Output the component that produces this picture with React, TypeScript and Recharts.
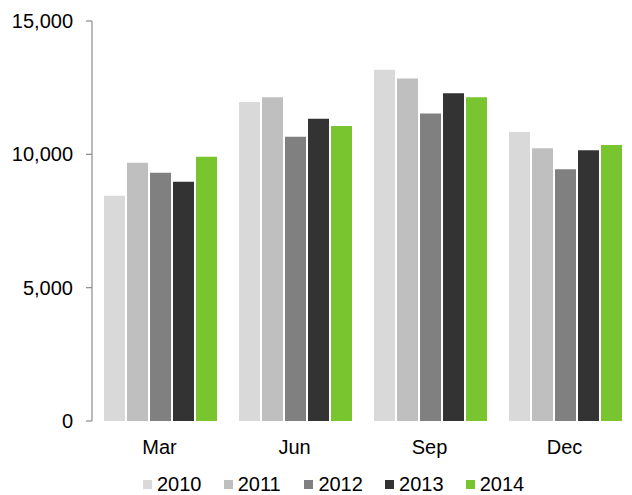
import React from "react";
import { BarChart, Bar, XAxis, YAxis, Legend } from "recharts";

const categories = ["Mar", "Jun", "Sep", "Dec"];
const years = ["2010", "2011", "2012", "2013", "2014"];
const colors = ["#d9d9d9", "#bfbfbf", "#808080", "#333333", "#78c530"];
const v2010 = [8450, 11960, 13170, 10840];
const v2011 = [9680, 12140, 12840, 10230];
const v2012 = [9310, 10660, 11530, 9440];
const v2013 = [8970, 11330, 12290, 10150];
const v2014 = [9910, 11060, 12140, 10350];
const yTicks = [0, 5000, 10000, 15000];
const boundaryTicks = [0, 1, 2, 3, 4];

const series = [v2010, v2011, v2012, v2013, v2014];
const data = categories.map((c, i) => {
  const row: Record<string, any> = { name: c };
  years.forEach((y, k) => {
    row[y] = series[k][i];
  });
  return row;
});

const FONT = "'Liberation Sans', Arial, sans-serif";
const AXIS = "#8a8a8a";

const LegendContent = () => (
  <div style={{ display: "flex", height: 18, alignItems: "center", marginLeft: 143, fontFamily: FONT }}>
    {years.map((y, k) => (
      <div key={y} style={{ display: "flex", alignItems: "center", width: 80.7, height: 18 }}>
        <span style={{ width: 9, height: 9, background: colors[k], display: "inline-block", marginRight: 5 }} />
        <span style={{ fontSize: 20, lineHeight: "18px", color: "#000" }}>{y}</span>
      </div>
    ))}
  </div>
);

export default function App() {
  return (
    <div style={{ position: "absolute", left: 0, top: 0, width: 632, height: 495 }}>
      <BarChart
        width={632}
        height={495}
        data={data}
        margin={{ top: 21, right: 0, left: 0, bottom: 0 }}
        barCategoryGap="8.9%"
        barGap={2}
      >
        <XAxis
          xAxisId="bound"
          type="number"
          domain={[0, 4]}
          ticks={boundaryTicks}
          allowDataOverflow
          height={0}
          tickFormatter={() => ""}
          axisLine={{ stroke: AXIS, strokeWidth: 1.2 }}
          tickLine={{ stroke: AXIS, strokeWidth: 1.2 }}
          tickSize={6}
        />
        <XAxis
          xAxisId="cat"
          dataKey="name"
          height={56}
          axisLine={false}
          tickLine={false}
          tickSize={0}
          tickMargin={19}
          tick={{ fontSize: 20, fill: "#000", fontFamily: FONT }}
        />
        <YAxis
          width={92}
          domain={[0, 15000]}
          ticks={yTicks}
          tickFormatter={(v: number) => v.toLocaleString("en-US")}
          axisLine={{ stroke: AXIS, strokeWidth: 1.2 }}
          tickLine={{ stroke: AXIS, strokeWidth: 1.2 }}
          tickSize={6}
          tickMargin={13}
          tick={{ fontSize: 20, fill: "#000", fontFamily: FONT }}
        />
        <Legend
          verticalAlign="bottom"
          content={<LegendContent />}
          wrapperStyle={{ left: 0, width: 632, height: 18, bottom: 2 }}
        />
        {years.map((y, k) => (
          <Bar key={y} dataKey={y} xAxisId="cat" fill={colors[k]} isAnimationActive={false} />
        ))}
      </BarChart>
    </div>
  );
}
